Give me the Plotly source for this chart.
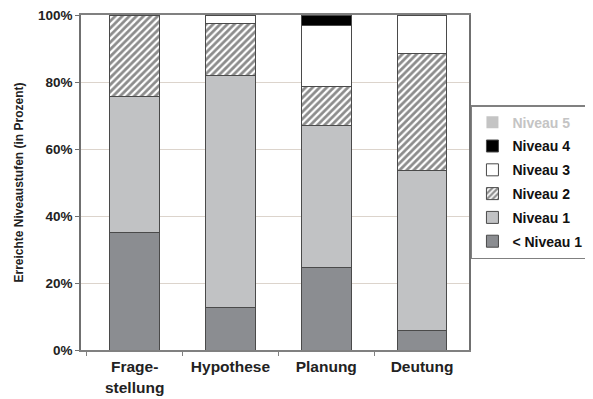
import plotly.graph_objects as go

categories = ["Frage-<br>stellung", "Hypothese", "Planung", "Deutung"]
unter_n1 = [35, 12.7, 24.6, 5.7]
niveau1 = [40.7, 69.3, 42.3, 47.8]
niveau2 = [24.3, 15.6, 11.7, 35.1]
niveau3 = [0, 2.4, 18.4, 11.4]
niveau4 = [0, 0, 3.0, 0]
niveau5 = [0, 0, 0, 0]

line = dict(color="#4a4a4a", width=1)
fig = go.Figure()
fig.add_bar(x=categories, y=unter_n1, name="< Niveau 1", legendgroup="g0", legendrank=6,
            marker=dict(color="#8b8d91", line=line))
fig.add_bar(x=categories, y=niveau1, name="Niveau 1", legendgroup="g1", legendrank=5,
            marker=dict(color="#c1c2c4", line=line))
fig.add_bar(x=categories, y=niveau2, name="Niveau 2", legendgroup="g2", legendrank=4,
            marker=dict(color="white", line=line,
                        pattern=dict(shape="/", fgcolor="#1a1a1a", bgcolor="white",
                                     size=5, solidity=0.55)))
fig.add_bar(x=categories, y=niveau3, name="Niveau 3", legendgroup="g3", legendrank=3,
            marker=dict(color="white", line=line))
fig.add_bar(x=categories, y=niveau4, name="Niveau 4", legendgroup="g4", legendrank=2,
            marker=dict(color="black", line=line))
fig.add_bar(x=categories, y=niveau5, name="<span style='color:#c4c4c4'>Niveau 5</span>",
            legendgroup="g5", legendrank=1,
            marker=dict(color="#c4c4c4", line=dict(width=0)))

# page has an 8px body margin: figure is drawn at (8, 8)
fig.update_layout(
    barmode="stack",
    bargap=0.48,
    width=585, height=391,
    margin=dict(l=73, r=124, t=7, b=49, autoexpand=False),
    paper_bgcolor="white", plot_bgcolor="white",
    font=dict(family="Liberation Sans, Arial, sans-serif", size=13, color="#222222", weight="bold"),
    showlegend=True,
    legend=dict(x=1.005, y=0.731, xanchor="left", yanchor="top",
                traceorder="grouped", bordercolor="#808080", borderwidth=1.5,
                font=dict(size=14, color="#111111", weight="bold"),
                itemwidth=30, tracegroupgap=2.6, bgcolor="white"),
    xaxis=dict(range=[-0.56, 3.49], showline=True, linecolor="#808080", linewidth=1.5,
               mirror=True, ticks="outside", tickson="boundaries", ticklen=4,
               tickcolor="#808080", showgrid=False, automargin=False,
               ticklabelstandoff=2, ticklabeloverflow="allow",
               tickfont=dict(size=15.5, color="#222222")),
    yaxis=dict(range=[0, 100], dtick=20, ticksuffix="%", showline=True,
               linecolor="#707070", linewidth=1.5, mirror=True, ticks="outside",
               ticklen=4, tickcolor="#707070", showgrid=True, gridcolor="#dcd4cc",
               gridwidth=1, tickfont=dict(size=13.5, color="#222222"), automargin=False,
               ticklabeloverflow="allow",
               title=dict(text="Erreichte Niveaustufen (in Prozent)",
                          font=dict(size=12, color="#222222"), standoff=12)),
)

fig.write_html("out.html")
